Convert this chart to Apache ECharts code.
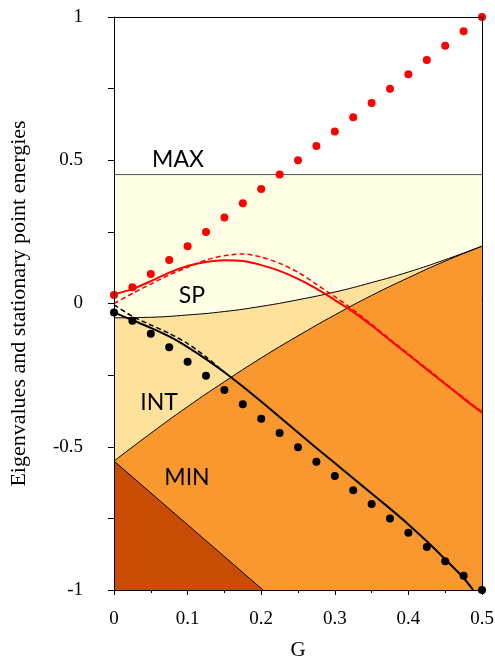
<!DOCTYPE html>
<html>
<head>
<meta charset="utf-8">
<script src="https://cdn.jsdelivr.net/npm/echarts@6/dist/echarts.min.js"></script>
<style>
  html, body { margin: 0; padding: 0; background: #fff; }
  #chart { width: 495px; height: 658px; }
</style>
</head>
<body>
<div id="chart"></div>
<script>
/* ---- data ---- */
const G_STEPS = [0, 0.025, 0.05, 0.075, 0.1, 0.125, 0.15, 0.175, 0.2, 0.225, 0.25,
                 0.275, 0.3, 0.325, 0.35, 0.375, 0.4, 0.425, 0.45, 0.475, 0.5];
const RED_DOTS = [0.03, 0.057, 0.103, 0.152, 0.2, 0.25, 0.3, 0.35, 0.4, 0.45, 0.5,
                  0.55, 0.6, 0.65, 0.7, 0.75, 0.8, 0.85, 0.9, 0.95, 1.0];
const BLACK_DOTS = [-0.031, -0.06, -0.106, -0.153, -0.203, -0.252, -0.302, -0.352, -0.402, -0.452, -0.502,
                    -0.552, -0.602, -0.652, -0.7, -0.75, -0.8, -0.85, -0.9, -0.95, -1.0];
const RED_SOLID = [0.032, 0.05, 0.078, 0.108, 0.131, 0.145, 0.151, 0.148, 0.134, 0.114, 0.086,
                   0.052, 0.012, -0.029, -0.077, -0.128, -0.179, -0.23, -0.281, -0.332, -0.381];
const RED_DASHED = [0.0, 0.035, 0.068, 0.1, 0.126, 0.152, 0.167, 0.173, 0.162, 0.14, 0.109,
                    0.067, 0.024, -0.022, -0.073, -0.125, -0.176, -0.227, -0.278, -0.329, -0.378];

const G_BLACK = [0, 0.025, 0.05, 0.075, 0.1, 0.125, 0.15, 0.175, 0.2, 0.225, 0.25,
                 0.275, 0.3, 0.325, 0.35, 0.375, 0.4, 0.425, 0.45, 0.475, 0.488];
const BLACK_SOLID = [-0.031, -0.058, -0.085, -0.115, -0.152, -0.194, -0.24, -0.29, -0.342, -0.396, -0.45,
                     -0.504, -0.557, -0.61, -0.663, -0.716, -0.771, -0.83, -0.893, -0.958, -1.0];
const G_BLACK_DASH = [0, 0.025, 0.05, 0.075, 0.1, 0.125, 0.15];
const BLACK_DASHED = [-0.005, -0.045, -0.075, -0.104, -0.14, -0.186, -0.24];

// region boundaries
const G_BOUND = [0, 0.05, 0.1, 0.15, 0.2, 0.25, 0.3, 0.35, 0.4, 0.45, 0.5];
const SP_BOUND = [-0.05, -0.048, -0.04, -0.028, -0.01, 0.013, 0.04, 0.073, 0.11, 0.153, 0.2];
const INT_BOUND = [-0.55, -0.453, -0.36, -0.273, -0.19, -0.113, -0.04, 0.028, 0.09, 0.148, 0.2];
const MAX_LEVEL = 0.45;
const G_MIN = [0, 0.2025];
const MIN_BOUND = [-0.55, -1.0];

const REGION_LABELS = ['MAX', 'SP', 'INT', 'MIN'];

const zip = (xs, ys) => xs.map((x, i) => [x, ys[i]]);

const SERIF = 'Liberation Serif';
const SANS = 'Lato';

const chart = echarts.init(document.getElementById('chart'));

function fillArea(data, color, smooth, edge) {
  return {
    type: 'line',
    data: data,
    smooth: smooth,
    symbol: 'none',
    z: 1,
    lineStyle: { color: edge || '#000', width: 1 },
    areaStyle: { color: color, opacity: 1, origin: 'start' },
    silent: true
  };
}

function curve(data, color, dashed) {
  return {
    type: 'line',
    data: data,
    smooth: 0.25,
    symbol: 'none',
    z: 4,
    lineStyle: { color: color, width: dashed ? 1.5 : 2, type: dashed ? [5, 3] : 'solid' }
  };
}

function dots(data, color) {
  return {
    type: 'scatter',
    data: data,
    symbol: 'circle',
    symbolSize: 8,
    z: 5,
    itemStyle: { color: color, opacity: 1 }
  };
}

const labelPos = [[178, 160], [192, 296], [159, 403], [187, 478]];

chart.setOption({
  animation: false,
  backgroundColor: '#fff',
  grid: { left: 114, right: 13, top: 17, bottom: 68, outerBoundsMode: 'none', containLabel: false },
  xAxis: [{
    type: 'value', min: 0, max: 0.5, interval: 0.1,
    name: 'G', nameLocation: 'middle', nameGap: 50,
    nameTextStyle: { fontFamily: SERIF, fontSize: 21, color: '#000' },
    axisLine: { onZero: false, lineStyle: { color: '#000' } },
    axisTick: { length: 5, lineStyle: { color: '#000' } },
    minorTick: { show: true, splitNumber: 2, length: 3, lineStyle: { color: '#000' } },
    splitLine: { show: false },
    axisLabel: { fontFamily: SERIF, fontSize: 19, color: '#000', margin: 20 },
    z: 10
  }, {
    type: 'value', min: 0, max: 0.5, position: 'top',
    axisLine: { show: true, onZero: false, lineStyle: { color: '#000' } },
    axisTick: { show: false }, axisLabel: { show: false }, splitLine: { show: false },
    z: 10
  }],
  yAxis: [{
    type: 'value', min: -1, max: 1, interval: 0.5,
    name: 'Eigenvalues and stationary point energies', nameLocation: 'middle', nameGap: 84,
    nameTextStyle: { fontFamily: SERIF, fontSize: 22, color: '#000' },
    axisLine: { show: true, onZero: false, lineStyle: { color: '#000' } },
    axisTick: { length: 6, lineStyle: { color: '#000' } },
    minorTick: { show: true, splitNumber: 2, length: 6, lineStyle: { color: '#000' } },
    splitLine: { show: false },
    axisLabel: { fontFamily: SERIF, fontSize: 19, color: '#000', margin: 31 },
    z: 10
  }, {
    type: 'value', min: -1, max: 1, position: 'right',
    axisLine: { show: true, onZero: false, lineStyle: { color: '#000' } },
    axisTick: { show: false }, axisLabel: { show: false }, splitLine: { show: false },
    z: 10
  }],
  series: [
    fillArea([[0, MAX_LEVEL], [0.5, MAX_LEVEL]], '#FFFFE6', false, '#555'),
    fillArea(zip(G_BOUND, SP_BOUND), '#FEE19B', true),
    fillArea(zip(G_BOUND, INT_BOUND), '#F9982F', true),
    fillArea(zip(G_MIN, MIN_BOUND), '#C94C05', false),
    curve(zip(G_STEPS, RED_DASHED), '#FF0000', true),
    curve(zip(G_STEPS, RED_SOLID), '#FF0000', false),
    curve(zip(G_BLACK_DASH, BLACK_DASHED), '#000', true),
    curve(zip(G_BLACK, BLACK_SOLID), '#000', false),
    dots(zip(G_STEPS, RED_DOTS), '#FF0000'),
    dots(zip(G_STEPS, BLACK_DOTS), '#000')
  ],
  graphic: REGION_LABELS.map((t, i) => ({
    type: 'text', z: 100,
    style: {
      text: t, x: labelPos[i][0], y: labelPos[i][1],
      align: 'center', verticalAlign: 'middle',
      fontFamily: SANS, fontSize: 23, fill: '#000'
    }
  }))
});
</script>
</body>
</html>
